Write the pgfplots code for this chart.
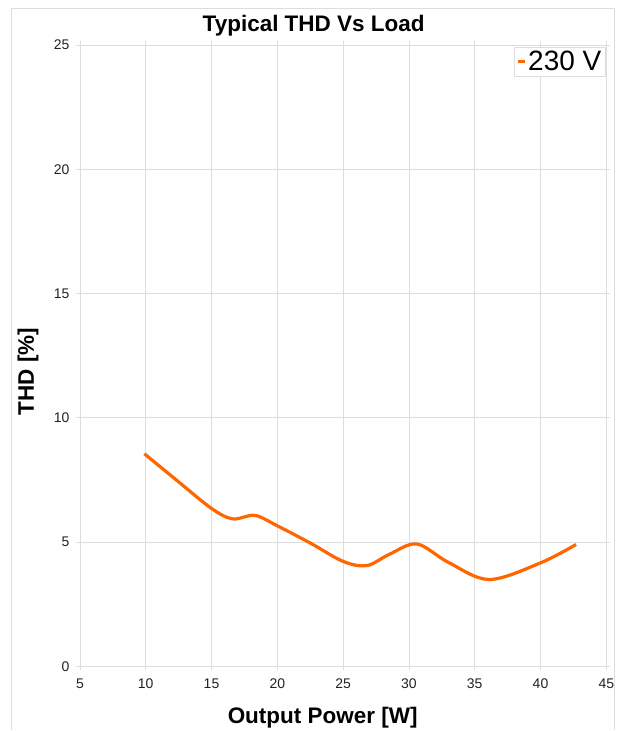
\documentclass[border=0pt]{standalone}
\usepackage{pgfplots}
\pgfplotsset{compat=1.18}
\usepackage{fontspec}
\setmainfont{Liberation Sans}
\definecolor{gridc}{HTML}{DDDDDD}
\definecolor{linec}{HTML}{FF6600}
\definecolor{tickc}{HTML}{222222}
\begin{document}
\begin{tikzpicture}[x=1pt,y=1pt]
\path (0,0) rectangle (621,731);
\draw[gridc,line width=0.8pt] (11,0) -- (11,723) -- (615,723) -- (615,0);
\begin{axis}[
  at={(80pt,64pt)}, anchor=south west,
  scale only axis, width=527pt, height=622pt,
  xmin=5, xmax=45, ymin=0, ymax=25,
  xtick={5,10,...,45}, ytick={0,5,...,25},
  grid=major, major grid style={gridc, line width=0.7pt},
  axis line style={draw=none},
  tick style={gridc, line width=0.7pt},
  tick align=outside, major tick length=4pt,
  /pgf/number format/assume math mode=true,
  tick label style={font=\fontsize{14}{16}\selectfont, text=tickc},
  xticklabel style={yshift=-5pt},
  yticklabel style={xshift=-3pt},
  legend style={at={(1,1)}, anchor=north east, xshift=-1pt, yshift=-2pt,
    draw=gridc, line width=0.8pt, inner xsep=2pt, inner ysep=2pt, outer sep=0pt,
    font=\fontsize{28}{30}\selectfont, fill=white, row sep=0pt},
  legend cell align=left,
  legend image code/.code={\draw[linec, line width=3pt] (-2pt,0pt) -- (5pt,0pt);},
]
\addplot[linec, line width=3.2pt, smooth, tension=0.55] coordinates {
  (9.9,8.55) (12.5,7.42) (15,6.35) (16.6,5.93) (18.3,6.07) (20,5.65)
  (22.5,4.96) (25,4.22) (26.8,4.05) (28.5,4.5) (30.6,4.92) (33,4.18)
  (36.1,3.49) (40,4.16) (42.7,4.9)
};
\addlegendentry{230 V}
\end{axis}
\node[font=\bfseries\fontsize{22.5}{24}\selectfont] at (314,705) {Typical THD Vs Load};
\node[font=\bfseries\fontsize{22.5}{24}\selectfont] at (323,13) {Output Power [W]};
\node[font=\bfseries\fontsize{22.5}{24}\selectfont, rotate=90] at (28,359) {THD [\%]};
\end{tikzpicture}
\end{document}
